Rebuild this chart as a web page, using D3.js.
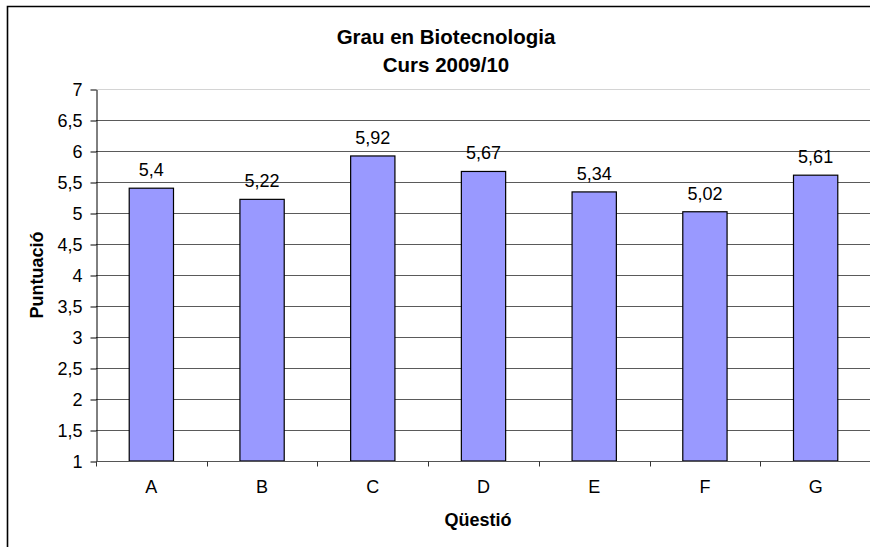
<!DOCTYPE html>
<html>
<head>
<meta charset="utf-8">
<script src="https://cdn.jsdelivr.net/npm/d3@7"></script>
<style>
  html, body { margin: 0; background: #fff; overflow: hidden; }
  svg { display: block; font-family: "Liberation Sans", Arial, sans-serif; overflow: hidden; }
</style>
</head>
<body>
<svg id="chart" width="870" height="547"></svg>
<script>
// chart data
const titleLines = ['Grau en Biotecnologia', 'Curs 2009/10'];
const categories = ['A', 'B', 'C', 'D', 'E', 'F', 'G'];
const values = [5.4, 5.22, 5.92, 5.67, 5.34, 5.02, 5.61];
const yTicks = [1, 1.5, 2, 2.5, 3, 3.5, 4, 4.5, 5, 5.5, 6, 6.5, 7];
const xTitle = 'Qüestió';
const yTitle = 'Puntuació';

const svg = d3.select('#chart');
const plot = { left: 96, top: 89, right: 871, bottom: 461 };
const fmt = d => String(d).replace('.', ',');

// outer chart frame, cut off on the right and bottom like the original
svg.append('path')
  .attr('d', 'M7.5,560V6.5H900')
  .attr('fill', 'none').attr('stroke', '#000').attr('stroke-width', 1.6);

let x = d3.scaleBand()
  .domain(categories)
  .range([plot.left, plot.right])
  .paddingInner(0.6)
  .paddingOuter(0.3);

let y = d3.scaleLinear()
  .domain([1, 7])
  .range([plot.bottom, plot.top]);

// grid
svg.append('g').selectAll('line')
  .data(yTicks.filter(d => d > 1))
  .join('line')
  .attr('x1', plot.left).attr('x2', plot.right)
  .attr('y1', d => Math.round(y(d)) + 0.5).attr('y2', d => Math.round(y(d)) + 0.5)
  .attr('stroke', d => d === 7 ? '#d4d4d4' : '#5a5a5a');

// bars
svg.append('g').selectAll('rect')
  .data(values)
  .join('rect')
  .attr('x', (d, i) => x(categories[i]))
  .attr('y', d => y(d))
  .attr('width', x.bandwidth())
  .attr('height', d => y(1) - y(d))
  .attr('fill', '#9999ff')
  .attr('stroke', '#000')
  .attr('stroke-width', 1.2);

// value labels
svg.append('g').selectAll('text')
  .data(values)
  .join('text')
  .attr('x', (d, i) => x(categories[i]) + x.bandwidth() / 2)
  .attr('y', d => y(d) - 12)
  .attr('text-anchor', 'middle')
  .attr('font-size', 18)
  .attr('fill', '#000')
  .text(fmt);

// y axis
let yAxis = svg.append('g')
  .attr('transform', `translate(${plot.left + 0.5},0.5)`)
  .call(d3.axisLeft(y).tickValues(yTicks).tickFormat(fmt).tickSize(6).tickPadding(8).tickSizeOuter(0));
yAxis.select('.domain').attr('stroke', '#000');
yAxis.selectAll('.tick line').attr('stroke', '#000');
yAxis.selectAll('text').attr('font-size', 18).attr('font-family', null).attr('fill', '#000');

// x axis: labels at category centres, ticks at category boundaries
let xAxis = svg.append('g')
  .attr('transform', `translate(0,${Math.round(plot.bottom) + 0.5})`)
  .call(d3.axisBottom(x).tickSize(0).tickPadding(19).tickSizeOuter(0));
xAxis.select('.domain').attr('stroke', '#555').attr('d', `M${plot.left},0H${plot.right}`);
xAxis.selectAll('text').attr('font-size', 18).attr('font-family', null).attr('fill', '#000');

let half = (x.step() - x.bandwidth()) / 2;
let bounds = categories.map(c => x(c) - half).concat([x(categories[categories.length - 1]) + x.bandwidth() + half]);
xAxis.append('g').selectAll('line')
  .data(bounds)
  .join('line')
  .attr('x1', d => Math.round(d) + 0.5).attr('x2', d => Math.round(d) + 0.5)
  .attr('y1', 0).attr('y2', 5)
  .attr('stroke', '#333');

// titles
svg.append('text')
  .attr('x', 446).attr('y', 44)
  .attr('text-anchor', 'middle')
  .attr('font-size', 20.5).attr('font-weight', 'bold')
  .selectAll('tspan')
  .data(titleLines)
  .join('tspan')
  .attr('x', 446)
  .attr('dy', (d, i) => i ? 27.5 : 0)
  .text(d => d);

svg.append('text')
  .attr('x', 478).attr('y', 526)
  .attr('text-anchor', 'middle')
  .attr('font-size', 18).attr('font-weight', 'bold')
  .text(xTitle);

svg.append('text')
  .attr('transform', `translate(43,${(plot.top + plot.bottom) / 2}) rotate(-90)`)
  .attr('text-anchor', 'middle')
  .attr('font-size', 18).attr('font-weight', 'bold')
  .text(yTitle);
</script>
</body>
</html>
